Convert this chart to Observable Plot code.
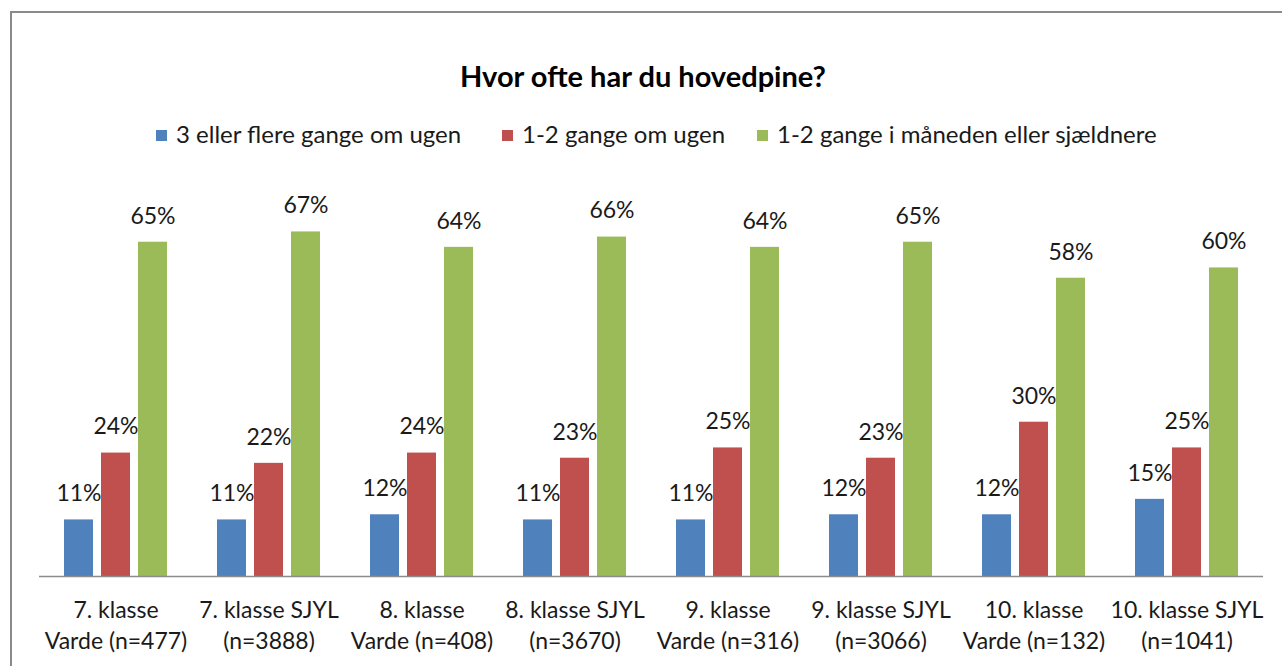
<!DOCTYPE html>
<html><head><meta charset="utf-8">
<script src="https://cdn.jsdelivr.net/npm/d3@7"></script>
<script src="https://cdn.jsdelivr.net/npm/@observablehq/plot@0.6"></script>
<style>
body{margin:0;width:1282px;height:666px;overflow:hidden;background:#fff;position:relative;font-family:Lato,"Open Sans",sans-serif;color:#1a1a1a}
#frame{position:absolute;left:10px;top:11px;width:1320px;height:720px;border:2px solid #8a8a8a;box-sizing:border-box}
#title{position:absolute;top:58px;left:0;width:1282px;text-align:center;font:bold 29px Lato,sans-serif;color:#000;padding-left:4px;box-sizing:border-box}
.leg{position:absolute;top:120px;font-size:24px;white-space:nowrap;line-height:28px}
.leg i{display:inline-block;width:11px;height:11px;margin-right:9px;vertical-align:2px}
#chart{position:absolute;left:0;top:160px}
</style></head>
<body>
<div id="frame"></div>
<div id="title">Hvor ofte har du hovedpine?</div>
<div id="legend"></div>
<div id="chart"></div>
<script>
const groups = ["7. klasse\nVarde (n=477)","7. klasse SJYL\n(n=3888)","8. klasse\nVarde (n=408)","8. klasse SJYL\n(n=3670)","9. klasse\nVarde (n=316)","9. klasse SJYL\n(n=3066)","10. klasse\nVarde (n=132)","10. klasse SJYL\n(n=1041)"];
const series = ["3 eller flere gange om ugen","1-2 gange om ugen","1-2 gange i måneden eller sjældnere"];
const colors = ["#4F81BD","#C0504D","#9BBB59"];
const s1 = [11,11,12,11,11,12,12,15];
const s2 = [24,22,24,23,25,23,30,25];
const s3 = [65,67,64,66,64,65,58,60];

const vals = [s1,s2,s3];
const data = [];
groups.forEach((g,i)=>series.forEach((s,j)=>data.push({group:g, series:s, value:vals[j][i]})));

const legX = [156,502,757];
const leg = document.getElementById("legend");
series.forEach((s,j)=>{
  const d = document.createElement("div");
  d.className="leg"; d.style.left=legX[j]+"px";
  d.innerHTML = `<i style="background:${colors[j]}"></i>${s}`;
  leg.appendChild(d);
});

const plot = Plot.plot({
  width:1282, height:506,
  marginLeft:37, marginRight:17, marginTop:56, marginBottom:90,
  style:{fontFamily:"Lato, 'Open Sans', sans-serif", fontSize:"23px", color:"#1a1a1a", background:"transparent"},
  fx:{domain:groups, padding:0, axis:null},
  x:{domain:series, paddingInner:0.21, paddingOuter:0.625, axis:null},
  y:{domain:[0,70], axis:null},
  color:{domain:series, range:colors},
  marks:[
    Plot.barY(data,{fx:"group", x:"series", y:"value", fill:"series"}),
    Plot.text(data,{fx:"group", x:"series", y:"value", text:d=>d.value+"%", dy:-26, lineAnchor:"middle", fontSize:23}),
    Plot.ruleY([0],{stroke:"#8c8c8c", strokeWidth:1.5}),
    Plot.text(groups,{fx:d=>d, text:d=>d, frameAnchor:"bottom", dy:47, lineAnchor:"middle", lineHeight:1.35, fontSize:23})
  ]
});
document.getElementById("chart").appendChild(plot);
</script>
</body></html>
